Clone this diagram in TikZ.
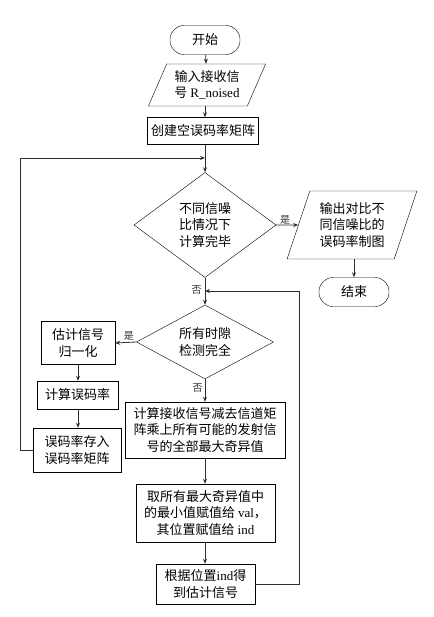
\documentclass[tikz,border=0pt]{standalone}
\usepackage{fontspec}
\setmainfont{Liberation Serif}
\newfontfamily\cjkfont{Noto Sans CJK SC}
\usetikzlibrary{arrows.meta, shapes.geometric, positioning}
\definecolor{LineGray}{RGB}{45,45,45}

\begin{document}
\begin{tikzpicture}[x=1pt, y=-1pt,
    font=\cjkfont\fontsize{13}{16.5}\selectfont,
    every node/.style={align=center, inner sep=1pt},
    terminal/.style={draw, rounded corners=14pt, minimum width=70pt, minimum height=29pt},
    iobox/.style={draw, trapezium, trapezium stretches=true},
    procbox/.style={draw, rectangle},
    decision/.style={draw, diamond, inner sep=0pt},
    flow/.style={-{Stealth[length=5pt,width=4pt]}, LineGray, line width=0.8pt},
    tag/.style={font=\cjkfont\fontsize{10}{10}\selectfont, inner sep=0pt}]
      \useasboundingbox (0,0) rectangle (433,617);
      % main column
      \node[terminal] (start) at (205,40) {开始};
      \node[iobox, trapezium left angle=64, trapezium right angle=116,
            minimum width=118pt, minimum height=42pt] (input) at (207,85)
            {输入接收信\\号 {\rmfamily R\_noised}};
      \node[procbox, minimum width=111pt, minimum height=27pt] (init) at (203,131) {创建空误码率矩阵};
      \node[decision, aspect=1.4, minimum width=142pt, minimum height=105pt] (snr) at (205,225)
            {不同信噪\\比情况下\\计算完毕};
      \node[iobox, trapezium left angle=69, trapezium right angle=111,
            minimum width=130pt, minimum height=68pt] (plot) at (352,225)
            {输出对比不\\同信噪比的\\误码率制图};
      \node[terminal] (stop) at (354,292) {结束};
      \node[decision, aspect=1.85, minimum width=137pt, minimum height=74pt] (slot) at (205,342)
            {所有时隙\\检测完全};
      \node[procbox, minimum width=160pt, minimum height=56pt] (dist) at (205,430)
            {计算接收信号减去信道矩\\阵乘上所有可能的发射信\\号的全部最大奇异值};
      \node[procbox, minimum width=139pt, minimum height=58pt] (pick) at (205.5,513)
            {取所有最大奇异值中\\的最小值赋值给 {\rmfamily val}，\\其位置赋值给 {\rmfamily ind}};
      \node[procbox, minimum width=99pt, minimum height=40pt] (est) at (205.5,584)
            {根据位置{\rmfamily ind}得\\到估计信号};
      % left column
      \node[procbox, minimum width=74pt, minimum height=43pt] (norm) at (78,343) {估计信号\\归一化};
      \node[procbox, minimum width=81pt, minimum height=28pt] (ber) at (77.5,395) {计算误码率};
      \node[procbox, minimum width=88pt, minimum height=44pt] (store) at (77,450) {误码率存入\\误码率矩阵};
      % joints
      \coordinate (loopin) at (205,158);
      \coordinate (backin) at (205,291);
      % connectors
      \draw[flow] (start) -- (input);
      \draw[flow] (input.south -| start) -- (init.north -| start);
      \draw[flow] (init.south -| start) -- (snr.north);
      \draw[flow] (snr.east) -- (plot.west)
            node[tag, pos=0.4, above] {是};
      \draw[flow] (stop.north |- plot.south) -- (stop.north);
      \draw[flow] (snr.south) -- (slot.north)
            node[tag, pos=0.45, left=3pt] {否};
      \draw[flow] (slot.west) -- (norm.east)
            node[tag, pos=0.35, above=2pt] {是};
      \draw[flow] (norm.south) -- (norm.south |- ber.north);
      \draw[flow] (norm.south |- ber.south) -- (norm.south |- store.north);
      \draw[flow] (store.west) -- ++(-12,0) |- (loopin);
      \draw[flow] (slot.south) -- (dist.north)
            node[tag, pos=0.4, left=2pt] {否};
      \draw[flow] (dist.south) -- (dist.south |- pick.north);
      \draw[flow] (dist.south |- pick.south) -- (dist.south |- est.north);
      \draw[flow] (est.east) -- (299,584) |- (backin);
\end{tikzpicture}
\end{document}
